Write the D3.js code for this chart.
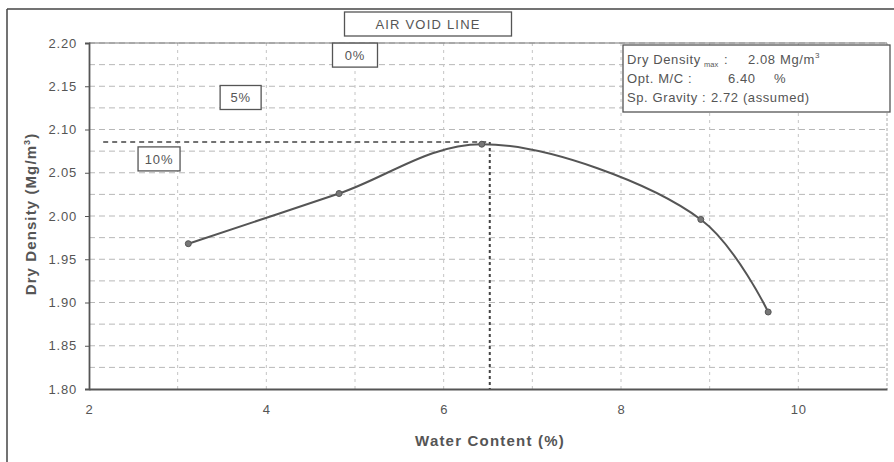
<!DOCTYPE html>
<html>
<head>
<meta charset="utf-8">
<script src="https://cdn.jsdelivr.net/npm/d3@7"></script>
<style>
  html, body { margin: 0; padding: 0; background: #fff; }
  svg { display: block; font-family: Arial, "Liberation Sans", sans-serif; }
</style>
</head>
<body>
<svg id="chart" width="894" height="462"></svg>
<script>
// ---- data ----
const waterContent = [3.12, 4.82, 6.43, 8.90, 9.66];
const dryDensity   = [1.968, 2.026, 2.083, 1.996, 1.889];
const xTicks = [2, 4, 6, 8, 10];
const yTicks = [1.80, 1.85, 1.90, 1.95, 2.00, 2.05, 2.10, 2.15, 2.20];
const optimum = { x: 6.52, y: 2.0855, xStart: 2.16 };
const airVoidLabels = [
  { text: "0%",  x: 5.0,  y: 2.186 },
  { text: "5%",  x: 3.71, y: 2.137 },
  { text: "10%", x: 2.79, y: 2.066 }
];
const infoText = {
  density: "2.08", densityUnit: "Mg/m", omc: "6.40", gravity: "2.72 (assumed)"
};

const svg = d3.select("#chart");
const W = 894, H = 462;
const m = { left: 89, right: 887, top: 43, bottom: 389 };
const ink = "#555";

const x = d3.scaleLinear().domain([2, 11]).range([m.left, m.right]);
const y = d3.scaleLinear().domain([1.80, 2.20]).range([m.bottom, m.top]);

// outer frame (top and left edge)
svg.append("line").attr("x1", 7).attr("x2", W).attr("y1", 9).attr("y2", 9)
  .attr("stroke", "#444").attr("stroke-width", 1.5);
svg.append("line").attr("x1", 7).attr("x2", 7).attr("y1", 9).attr("y2", H)
  .attr("stroke", "#444").attr("stroke-width", 1.5);

// gridlines
const g = svg.append("g");
const hGrid = d3.range(1.825, 2.2, 0.025);
g.selectAll(".hg").data(hGrid).join("line")
  .attr("x1", m.left).attr("x2", m.right)
  .attr("y1", d => y(d)).attr("y2", d => y(d))
  .attr("stroke", "#b8b8b8").attr("stroke-width", 1)
  .attr("stroke-dasharray", "6,4");
const vGrid = d3.range(3, 11, 1);
g.selectAll(".vg").data(vGrid).join("line")
  .attr("y1", m.top).attr("y2", m.bottom)
  .attr("x1", d => x(d)).attr("x2", d => x(d))
  .attr("stroke", "#c4c4c4").attr("stroke-width", 1)
  .attr("stroke-dasharray", "3,4");

// plot frame
svg.append("line").attr("x1", m.right).attr("x2", m.right).attr("y1", m.top).attr("y2", m.bottom)
  .attr("stroke", "#aaa").attr("stroke-width", 1).attr("stroke-dasharray", "3,2");
svg.append("line").attr("x1", m.left).attr("x2", m.right).attr("y1", m.top).attr("y2", m.top)
  .attr("stroke", "#777").attr("stroke-width", 1.2);

// axes
const xAxis = svg.append("g").attr("transform", `translate(0,${m.bottom})`)
  .call(d3.axisBottom(x).tickValues(xTicks).tickSize(0).tickPadding(16).tickFormat(d3.format("d")));
const yAxis = svg.append("g").attr("transform", `translate(${m.left},0)`)
  .call(d3.axisLeft(y).tickValues(yTicks).tickSize(4).tickPadding(8).tickFormat(d3.format(".2f")));
[xAxis, yAxis].forEach(a => {
  a.select(".domain").attr("stroke", ink).attr("stroke-width", 1.8);
  a.selectAll(".tick line").attr("stroke", ink);
  a.selectAll("text").attr("fill", ink).style("font-size", "13px")
    .style("letter-spacing", "0.8px")
    .style("font-family", "Arial, 'Liberation Sans', sans-serif");
});

// optimum dashed lines
svg.append("line")
  .attr("x1", x(optimum.xStart)).attr("x2", x(optimum.x))
  .attr("y1", y(optimum.y)).attr("y2", y(optimum.y))
  .attr("stroke", "#444").attr("stroke-width", 1.6).attr("stroke-dasharray", "5,4");
svg.append("line")
  .attr("x1", x(optimum.x)).attr("x2", x(optimum.x))
  .attr("y1", y(optimum.y)).attr("y2", y(1.80))
  .attr("stroke", "#444").attr("stroke-width", 2).attr("stroke-dasharray", "3,3");

// compaction curve
const pts = waterContent.map((w, i) => [w, dryDensity[i]]);
const line = d3.line().x(d => x(d[0])).y(d => y(d[1])).curve(d3.curveCatmullRom.alpha(0.5));
svg.append("path").datum(pts).attr("d", line)
  .attr("fill", "none").attr("stroke", ink).attr("stroke-width", 2);
svg.selectAll(".pt").data(pts).join("circle")
  .attr("cx", d => x(d[0])).attr("cy", d => y(d[1])).attr("r", 3)
  .attr("fill", "#777").attr("stroke", ink).attr("stroke-width", 1);

// label boxes
function labelBox(cx, cy, w, h, txt, fs, ls) {
  svg.append("rect").attr("x", cx - w / 2).attr("y", cy - h / 2).attr("width", w).attr("height", h)
    .attr("fill", "#fff").attr("stroke", ink).attr("stroke-width", 1.3);
  svg.append("text").attr("x", cx).attr("y", cy).attr("dy", "0.36em").attr("text-anchor", "middle")
    .attr("fill", ink).style("font-size", fs + "px").style("letter-spacing", ls + "px").text(txt);
}
labelBox(428, 24, 167, 24, "AIR VOID LINE", 13, 1.2);
const boxW = { "0%": 45, "5%": 41, "10%": 42 };
airVoidLabels.forEach(d => labelBox(x(d.x), y(d.y), boxW[d.text], 24, d.text, 13, 0.8));

// info box
svg.append("rect").attr("x", 623).attr("y", 45).attr("width", 267).attr("height", 67)
  .attr("fill", "#fff").attr("stroke", ink).attr("stroke-width", 1.3);
function info(xp, yp, txt, fs, ls) {
  return svg.append("text").attr("x", xp).attr("y", yp).attr("fill", ink)
    .style("font-size", (fs || 13) + "px").style("letter-spacing", (ls == null ? 0.6 : ls) + "px").text(txt);
}
info(627, 63.5, "Dry Density");
info(704, 67, "max", 7.5, 0);
info(724, 63.5, ":");
info(748, 63.5, infoText.density);
const unit = info(780, 63.5, infoText.densityUnit);
unit.append("tspan").attr("dy", -6).style("font-size", "8px").style("letter-spacing", "0px").text("3");
info(627, 82.5, "Opt. M/C :");
info(728, 82.5, infoText.omc);
info(774, 82.5, "%");
info(627, 101.5, "Sp. Gravity :");
info(711, 101.5, infoText.gravity);

// axis titles
svg.append("text").attr("x", 490).attr("y", 446).attr("text-anchor", "middle")
  .attr("fill", ink).style("font-size", "15px").style("font-weight", "bold")
  .style("letter-spacing", "1.2px")
  .text("Water Content (%)");
const yt = svg.append("text").attr("transform", "translate(36,214) rotate(-90)")
  .attr("text-anchor", "middle").attr("fill", ink)
  .style("font-size", "15px").style("font-weight", "bold").style("letter-spacing", "1.1px");
yt.append("tspan").text("Dry Density (Mg/m");
yt.append("tspan").attr("dy", -6).style("font-size", "9px").text("3");
yt.append("tspan").attr("dy", 6).text(")");
</script>
</body>
</html>
